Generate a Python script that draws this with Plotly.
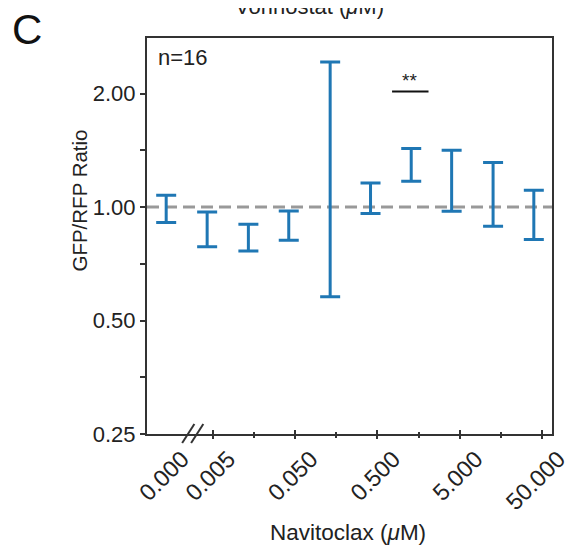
import plotly.graph_objects as go

# ---- data ----
conc_labels = ["0.000", "0.005", "0.050", "0.500", "5.000", "50.000"]
conc_tick_values = [0.005, 0.05, 0.5, 5, 50]
conc_minor_values = [0.0158, 0.158, 1.58, 15.8]
# Navitoclax concentrations of the points (first point is the 0 µM control)
navitoclax = [0.0, 0.0043, 0.0136, 0.042, 0.1335, 0.412, 1.284, 3.97, 12.63, 39.4]
ratio_lower = [0.910, 0.785, 0.765, 0.817, 0.578, 0.962, 1.171, 0.975, 0.890, 0.821]
ratio_upper = [1.075, 0.971, 0.901, 0.977, 2.426, 1.159, 1.430, 1.415, 1.313, 1.109]
y_tick_values = [0.25, 0.5, 1.0, 2.0]
y_tick_labels = ["0.25", "0.50", "1.00", "2.00"]
y_minor_values = [0.3536, 0.7071, 1.4142]

# layout constants
ZERO_POS = 0.00137          # where the 0 µM control is drawn (left of the axis break)
X_RANGE = [-3.096, 1.816]   # log10 range
Y_RANGE = [-0.60206, 0.4487]
BLUE = "#1f77b4"
FONT = "Liberation Sans, Arial, Helvetica, sans-serif"
AX = "#333333"
TXT = "#222222"

x_plot = [ZERO_POS if v == 0 else v for v in navitoclax]
center = [(lo + hi) / 2 for lo, hi in zip(ratio_lower, ratio_upper)]
err_plus = [hi - c for hi, c in zip(ratio_upper, center)]
err_minus = [c - lo for lo, c in zip(ratio_lower, center)]

fig = go.Figure()

fig.add_trace(go.Scatter(
    x=x_plot, y=center, mode="markers",
    marker=dict(size=1, opacity=0, color=BLUE),
    error_y=dict(type="data", symmetric=False, array=err_plus, arrayminus=err_minus,
                 color=BLUE, thickness=3, width=10),
    showlegend=False, hoverinfo="skip",
))
# dummy traces so the tick-only overlay axes are drawn
for ax in ["x2", "x3"]:
    fig.add_trace(go.Scatter(x=[None], y=[None], xaxis=ax, yaxis="y",
                             showlegend=False, hoverinfo="skip"))

# reference line at ratio 1
fig.add_hline(y=1.0, line=dict(color="#999999", width=3, dash="12px,6px"), layer="below")

common_x = dict(type="log", range=X_RANGE, showgrid=False, zeroline=False)
fig.update_layout(
    width=574, height=538,
    margin=dict(l=139.3, r=27, t=30.3, b=112),
    paper_bgcolor="white", plot_bgcolor="white",
    font=dict(family=FONT, size=20, color=TXT),
    xaxis=dict(**common_x,
               tickmode="array", tickvals=[ZERO_POS] + conc_tick_values,
               ticktext=conc_labels, ticks="", tickangle=-45,
               ticklabelshift=16, ticklabelstandoff=0,
               showline=True, linecolor=AX, linewidth=2, mirror=True,
               tickfont=dict(size=23.5, family=FONT, color=TXT)),
    xaxis2=dict(**common_x, overlaying="x", anchor="y", showticklabels=False,
                tickmode="array", tickvals=conc_tick_values, ticks="outside",
                ticklen=4, tickwidth=1.5, tickcolor=AX, showline=False,
                minor=dict(tickmode="array", tickvals=conc_minor_values,
                           ticks="outside", ticklen=2.5, tickwidth=1.5, tickcolor=AX)),
    xaxis3=dict(**common_x, overlaying="x", anchor="y", showticklabels=False,
                tickmode="array", tickvals=conc_tick_values, ticks="inside",
                ticklen=4, tickwidth=1.5, tickcolor=AX, showline=False,
                minor=dict(tickmode="array", tickvals=conc_minor_values,
                           ticks="inside", ticklen=2.5, tickwidth=1.5, tickcolor=AX)),
    yaxis=dict(type="log", range=Y_RANGE, showgrid=False, zeroline=False,
               tickmode="array", tickvals=y_tick_values, ticktext=y_tick_labels,
               ticks="outside", ticklen=5, tickwidth=1.5, tickcolor=AX,
               showline=True, linecolor=AX, linewidth=2, mirror=True,
               minor=dict(tickmode="array", tickvals=y_minor_values,
                          ticks="outside", ticklen=5, tickwidth=1.5, tickcolor=AX),
               tickfont=dict(size=22, family=FONT, color=TXT)),
)

annos = [
    dict(text="GFP/RFP Ratio", x=-0.1675, y=0.590, textangle=-90,
         xanchor="center", yanchor="middle", font=dict(size=20.5)),
    dict(text="Navitoclax (<i>μ</i>M)", x=0.497, y=-0.2477,
         xanchor="center", yanchor="middle", font=dict(size=22.5)),
    dict(text="Vorinostat (<i>μ</i>M)", x=0.4015, y=1.079,
         xanchor="center", yanchor="middle", font=dict(size=22)),
    dict(text="C", x=-0.2963, y=1.021, xanchor="center", yanchor="middle",
         font=dict(size=42, color="#111111")),
    dict(text="n=16", x=0.0213, y=0.9515, xanchor="left", yanchor="middle",
         font=dict(size=22)),
    dict(text="**", x=0.649, y=0.893, xanchor="center", yanchor="middle",
         font=dict(size=19)),
]
for a in annos:
    fig.add_annotation(xref="paper", yref="paper", showarrow=False, **a)

# significance bar
fig.add_shape(type="line", xref="paper", yref="paper",
              x0=(394 - 147.3) / 407.7, x1=(430.7 - 147.3) / 407.7,
              y0=(434 - 91.7) / 395.7, y1=(434 - 91.7) / 395.7,
              line=dict(color="#111111", width=2))
# axis break marks "//"
for dx in (0, 9):
    fig.add_shape(type="line", xref="paper", yref="paper",
                  x0=(182.7 + dx - 147.3) / 407.7, y0=(434 - 443) / 395.7,
                  x1=(195 + dx - 147.3) / 407.7, y1=(434 - 424) / 395.7,
                  line=dict(color=AX, width=2))

fig.write_html("out.html")
